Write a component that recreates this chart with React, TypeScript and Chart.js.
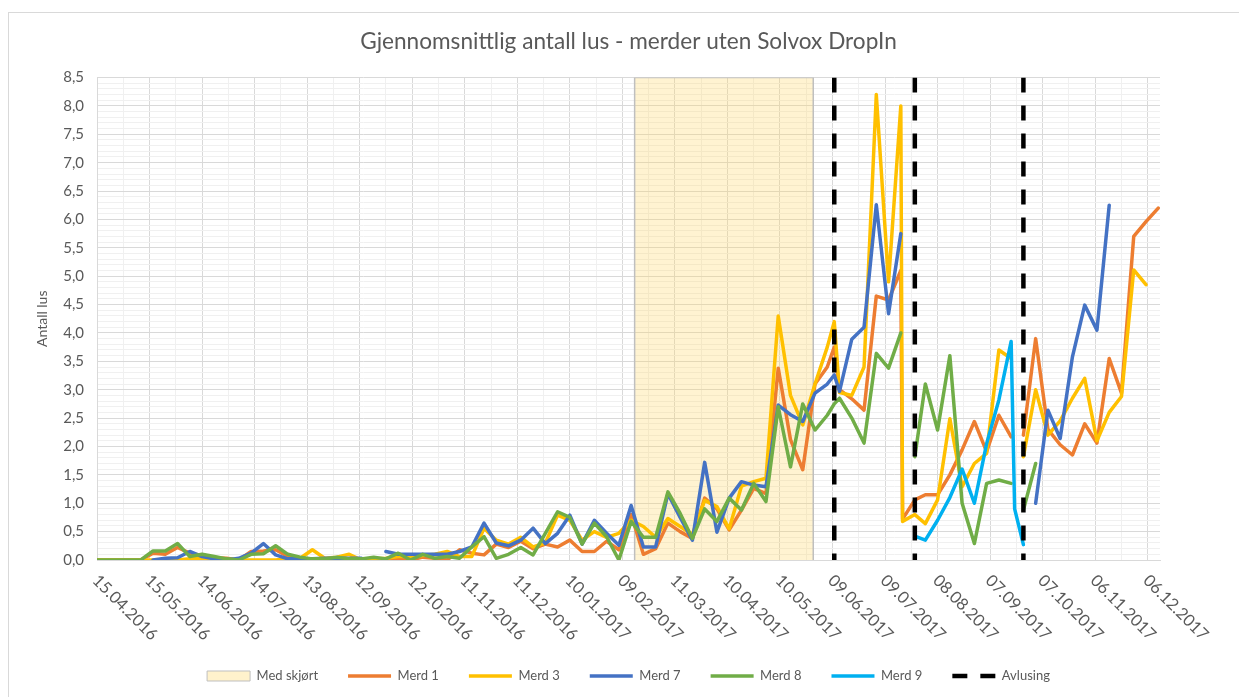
import React, { useEffect, useRef } from "react";
import { Chart, registerables } from "chart.js";
Chart.register(...registerables);

const _ = null;
const FONT = "Lato, 'Open Sans', sans-serif";

// sample dates, as days since 15.04.2016
const dayOffsets = [
  0,
  4, 11, 18, 25, 32, 39, 46, 53, 60, 67,
  74, 81, 88, 95, 102, 109, 116, 123, 130, 137,
  144, 151, 158, 165, 172, 179, 186, 193, 200, 207,
  214, 221, 228, 235, 242, 249, 256, 263, 270, 277,
  284, 291, 298, 305, 312, 319, 326, 333, 340, 347,
  354, 361, 368, 375, 382, 389, 396, 403, 410, 417,
  421,
  424, 431, 438, 445, 452, 459,
  460,
  467, 473, 480, 487, 494, 501, 508, 515, 522,
  524,
  529, 536, 543, 550, 557, 564, 571, 578, 585, 592, 599, 606,
];

const merd1 = [
  0,
  0, 0, 0, 0, 0.12, 0.1, 0.22, 0.12, 0.08, 0.04,
  0.03, 0, 0.15, 0.16, 0.18, 0.06, 0.03, 0, 0, 0,
  0, 0, 0, 0.02, 0.03, 0, 0.05, 0.03, 0, 0.18,
  0.12, 0.09, 0.28, 0.22, 0.33, 0.2, 0.28, 0.23, 0.35, 0.15,
  0.15, 0.33, 0.18, 0.8, 0.1, 0.2, 0.65, 0.5, 0.38, 1.09,
  0.9, 0.53, 0.88, 1.26, 1.17, 3.38, 2.12, 1.59, 3.1, 3.4,
  3.75,
  3.0, 2.84, 2.64, 4.65, 4.58, 5.1,
  0.72,
  1.06, 1.15, 1.15, 1.5, 1.94, 2.44, 1.91, 2.55, 2.17,
  _,
  2.2, 3.9, 2.3, 2.03, 1.85, 2.4, 2.06, 3.55, 2.94, 5.7, 5.96, 6.2,
];

const merd3 = [
  0,
  0, 0, 0, 0, 0, 0, 0, 0.02, 0.02, 0,
  0, 0, 0, 0, 0, 0.02, 0.03, 0.18, 0.03, 0.05,
  0.1, 0, 0.02, 0.03, 0.06, 0.06, 0.08, 0.1, 0.15, 0.06,
  0.06, 0.56, 0.35, 0.28, 0.4, 0.23, 0.3, 0.79, 0.7, 0.35,
  0.5, 0.4, 0.47, 0.7, 0.59, 0.4, 0.73, 0.59, 0.45, 1.05,
  0.94, 0.55, 1.3, 1.38, 1.44, 4.3, 2.9, 2.38, 3.1, 3.75,
  4.2,
  2.95, 2.9, 3.4, 8.2, 4.9, 8.0,
  0.68,
  0.8, 0.64, 1.06, 2.49, 1.29, 1.7, 1.88, 3.7, 3.55,
  _,
  1.82, 3.0, 2.2, 2.45, 2.85, 3.2, 2.1, 2.6, 2.88, 5.11, 4.85, _,
];

const merd7 = [
  _,
  _, _, _, _, 0, 0.03, 0.04, 0.15, 0.06, 0.02,
  0, 0.03, 0.12, 0.29, 0.09, 0.02, 0.02, 0.02, 0.03, 0.03,
  0.03, 0.03, _, 0.15, 0.1, 0.1, 0.1, 0.1, 0.1, 0.15,
  0.23, 0.65, 0.3, 0.25, 0.35, 0.56, 0.29, 0.47, 0.79, 0.28,
  0.7, 0.47, 0.26, 0.96, 0.23, 0.23, 1.17, 0.75, 0.35, 1.72,
  0.49, 1.09, 1.38, 1.32, 1.29, 2.73, 2.56, 2.44, 2.94, 3.1,
  3.26,
  2.97, 3.89, 4.1, 6.26, 4.34, 5.75,
  _,
  _, _, _, _, _, _, _, _, _,
  _,
  _, 1.0, 2.64, 2.14, 3.58, 4.49, 4.05, 6.25, _, _, _, _,
];

const merd8 = [
  0,
  0, 0, 0, 0, 0.16, 0.16, 0.29, 0.06, 0.1, 0.06,
  0.02, 0, 0.1, 0.11, 0.25, 0.1, 0.05, 0.02, 0.02, 0.05,
  0.02, 0.02, 0.05, 0.02, 0.12, 0, 0.1, 0.03, 0.06, 0.03,
  0.23, 0.41, 0.03, 0.1, 0.22, 0.09, 0.47, 0.85, 0.75, 0.28,
  0.65, 0.41, 0, 0.68, 0.4, 0.4, 1.2, 0.82, 0.38, 0.9,
  0.68, 1.09, 0.88, 1.35, 1.03, 2.7, 1.64, 2.75, 2.29, 2.55,
  2.75,
  2.85, 2.5, 2.06, 3.64, 3.38, 4.0,
  _,
  1.82, 3.1, 2.29, 3.6, 1.0, 0.29, 1.35, 1.41, 1.35,
  _,
  0.88, 1.7, _, _, _, _, _, _, _, _, _, _,
];

const merd9 = [
  _,
  _, _, _, _, _, _, _, _, _, _,
  _, _, _, _, _, _, _, _, _, _,
  _, _, _, _, _, _, _, _, _, _,
  _, _, _, _, _, _, _, _, _, _,
  _, _, _, _, _, _, _, _, _, _,
  _, _, _, _, _, _, _, _, _, _,
  _,
  _, _, _, _, _, _,
  _,
  0.42, 0.35, 0.7, 1.1, 1.6, 1.0, 2.05, 2.82, 3.85,
  0.9,
  0.27, _, _, _, _, _, _, _, _, _, _, _,
];

const tickDays = [0, 30, 60, 90, 120, 150, 180, 210, 240, 270, 300, 330, 360, 390, 420, 450, 480, 510, 540, 570, 600];
const tickLabels = [
  "15.04.2016", "15.05.2016", "14.06.2016", "14.07.2016", "13.08.2016", "12.09.2016",
  "12.10.2016", "11.11.2016", "11.12.2016", "10.01.2017", "09.02.2017", "11.03.2017",
  "10.04.2017", "10.05.2017", "09.06.2017", "09.07.2017", "08.08.2017", "07.09.2017",
  "07.10.2017", "06.11.2017", "06.12.2017",
];
const medSkjortDays = [307, 409];
const avlusingDays = [421, 467, 529];
const xMaxDay = 607;
const yMax = 8.5;

const xLabelPlugin = {
  id: "xRotLabels",
  afterDraw(chart: any) {
    const { ctx, chartArea } = chart;
    const x = chart.scales.x;
    ctx.save();
    ctx.font = `16.5px ${FONT}`;
    ctx.fillStyle = "#595959";
    ctx.textAlign = "left";
    ctx.textBaseline = "top";
    tickLabels.forEach((lab, i) => {
      const px = x.getPixelForValue(tickDays[i]);
      ctx.save();
      ctx.translate(px + 4, chartArea.bottom + 12);
      ctx.rotate(Math.PI / 4);
      ctx.fillText(lab, 0, 0);
      ctx.restore();
    });
    ctx.restore();
  },
};

function series(vals: (number | null)[]) {
  return dayOffsets.map((d, i) => ({ x: d, y: vals[i] }));
}

export default function App() {
  const ref = useRef<HTMLCanvasElement>(null);
  useEffect(() => {
    document.body.style.margin = "0";
    const canvas = ref.current!;
    const line = (label: string, vals: (number | null)[], color: string, order: number) => ({
      label,
      data: series(vals),
      borderColor: color,
      backgroundColor: color,
      borderWidth: 3.5,
      pointRadius: 0,
      pointHoverRadius: 0,
      tension: 0,
      spanGaps: false,
      fill: false,
      borderJoinStyle: "round",
      borderCapStyle: "round",
      order,
    });
    const avlPoints: any[] = [];
    avlusingDays.forEach((d, i) => {
      if (i > 0) avlPoints.push({ x: d, y: null });
      avlPoints.push({ x: d, y: yMax });
      avlPoints.push({ x: d, y: 0 });
    });
    const chart = new Chart(canvas, {
      type: "line",
      data: {
        datasets: [
          {
            label: "Med skjørt",
            data: [
              { x: medSkjortDays[0], y: 0 },
              { x: medSkjortDays[0], y: yMax },
              { x: medSkjortDays[1], y: yMax },
              { x: medSkjortDays[1], y: 0 },
            ],
            fill: "origin",
            backgroundColor: "rgba(255, 214, 102, 0.3)",
            borderColor: "#BFBFBF",
            borderWidth: 1.5,
            pointRadius: 0,
            pointHoverRadius: 0,
            order: 10,
          } as any,
          line("Merd 1", merd1, "#ED7D31", 6),
          line("Merd 3", merd3, "#FFC000", 5),
          line("Merd 7", merd7, "#4472C4", 4),
          line("Merd 8", merd8, "#70AD47", 3),
          line("Merd 9", merd9, "#00B0F0", 2),
          {
            label: "Avlusing",
            data: avlPoints,
            borderColor: "#000000",
            backgroundColor: "#000000",
            borderWidth: 4.5,
            borderDash: [15, 13],
            pointRadius: 0,
            pointHoverRadius: 0,
            spanGaps: false,
            fill: false,
            order: 1,
          } as any,
        ],
      },
      options: {
        responsive: false,
        animation: false,
        events: [],
        layout: { padding: { left: 18, right: 0, top: 0, bottom: 4.5 } },
        scales: {
          x: {
            type: "linear",
            min: 0,
            max: xMaxDay,
            bounds: "data",
            grid: {
              drawTicks: false,
              lineWidth: 1,
              color: (c: any) => {
                const v = c.tick ? c.tick.value : 0;
                if (v % 30 === 0) return "#D9D9D9";
                if (v % 15 === 0) return "#F0F0F0";
                return "rgba(0,0,0,0)";
              },
            },
            border: { color: "#D9D9D9" },
            ticks: { stepSize: 15, autoSkip: false, includeBounds: false, callback: () => "" },
            afterFit: (s: any) => {
              s.height = 79.5;
            },
          },
          y: {
            type: "linear",
            min: 0,
            max: yMax,
            grid: {
              drawTicks: false,
              color: (c: any) => {
                const v = c.tick ? Math.round(c.tick.value * 10) : 0;
                return v % 5 === 0 ? "#D9D9D9" : "#F0F0F0";
              },
            },
            border: { color: "#D9D9D9" },
            ticks: {
              stepSize: 0.1,
              autoSkip: false,
              padding: 13,
              color: "#595959",
              font: { size: 15, family: FONT },
              callback: (v: any) => {
                const t = Math.round(Number(v) * 10);
                return t % 5 === 0 ? (t / 10).toFixed(1).replace(".", ",") : "";
              },
            },
            title: {
              display: true,
              text: "Antall lus",
              color: "#595959",
              font: { size: 14, family: FONT },
              padding: { top: 16, bottom: 0 },
            },
            afterFit: (s: any) => {
              s.width = 79;
            },
          },
          y2: {
            type: "linear",
            position: "right",
            display: true,
            grid: { display: false },
            border: { display: false },
            ticks: { display: false },
            afterFit: (s: any) => {
              s.width = 79;
            },
          },
        },
        plugins: {
          tooltip: { enabled: false },
          title: {
            display: true,
            text: "Gjennomsnittlig antall lus - merder uten Solvox DropIn",
            color: "#595959",
            font: { size: 22.6, family: FONT, weight: "normal" },
            padding: { top: 28.4, bottom: 22 },
          },
          legend: {
            position: "bottom",
            labels: {
              color: "#595959",
              font: { size: 13, family: FONT },
              usePointStyle: true,
              pointStyleWidth: 43,
              boxHeight: 10,
              padding: 30,
              generateLabels: (ch: any) => {
                const items = Chart.defaults.plugins.legend.labels.generateLabels(ch);
                return items
                  .slice()
                  .sort((a: any, b: any) => a.datasetIndex - b.datasetIndex)
                  .map((it: any) => {
                    const i = it.datasetIndex;
                    const ds: any = ch.data.datasets[i];
                    if (i === 0) {
                      return { ...it, pointStyle: "rect", fillStyle: "#FFF2CC", strokeStyle: "#BFBFBF", lineWidth: 1 };
                    }
                    return {
                      ...it,
                      pointStyle: "line",
                      strokeStyle: ds.borderColor,
                      fillStyle: ds.borderColor,
                      lineWidth: ds.borderWidth,
                      lineDash: ds.borderDash || [],
                      lineCap: "butt",
                    };
                  });
              },
            },
          },
        },
      } as any,
      plugins: [xLabelPlugin],
    });
    return () => chart.destroy();
  }, []);
  return (
    <div style={{ position: "relative", width: 1239, height: 697, overflow: "hidden", background: "#fff" }}>
      <div
        style={{
          position: "absolute",
          left: 8,
          top: 12,
          width: 1239,
          height: 697,
          border: "1px solid #D9D9D9",
          boxSizing: "border-box",
        }}
      />
      <canvas ref={ref} width={1239} height={697} style={{ position: "absolute", left: 0, top: 0 }} />
    </div>
  );
}
